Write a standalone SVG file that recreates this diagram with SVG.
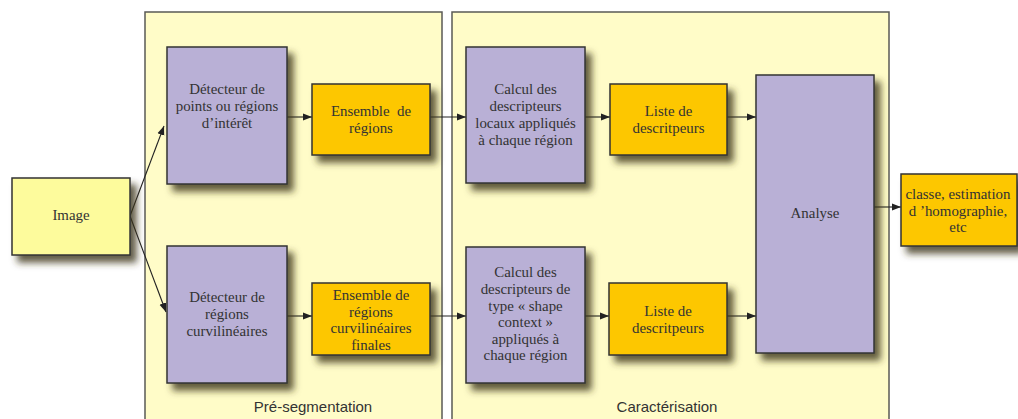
<svg xmlns="http://www.w3.org/2000/svg" width="1018" height="419" viewBox="0 0 1018 419">
<style>
.panel{fill:#fffcc8;stroke:#5a5a55;stroke-width:1.5}
.box{stroke:#333;stroke-width:1.5;filter:url(#sh)}
.p{fill:#b9b0d6}
.o{fill:#fdc700}
.y{fill:#fdfb9c}
.t{font-family:"Liberation Serif","Times New Roman",serif;font-size:14.9px;fill:#333;text-anchor:middle}
.lab{font-family:"Liberation Sans",Arial,sans-serif;font-size:15px;fill:#333;text-anchor:middle}
.c{stroke:#222;stroke-width:1.1;fill:none;marker-end:url(#ah)}
</style>
<defs>
<filter id="sh" x="-20%" y="-20%" width="150%" height="150%">
<feDropShadow dx="6" dy="7" stdDeviation="3.5" flood-color="#3a3418" flood-opacity="0.8"/>
</filter>
<marker id="ah" viewBox="0 0 10 10" refX="10" refY="5" markerWidth="9" markerHeight="9" markerUnits="userSpaceOnUse" orient="auto">
<path d="M0,1 L10,5 L0,9 Z" fill="#222"/>
</marker>
</defs>
<rect width="1018" height="419" fill="#fff"/>
<g id="panel-presegmentation">
<rect class="panel" x="145" y="12" width="297" height="420"/>
<text class="lab" x="313" y="412">Pré-segmentation</text>
</g>
<g id="panel-caracterisation">
<rect class="panel" x="452" y="12" width="437" height="420"/>
<text class="lab" x="667" y="412">Caractérisation</text>
</g>
<g id="connectors">
<path class="c" d="M130,216 L164,126"/>
<path class="c" d="M130,216 L166,312"/>
<path class="c" d="M287,117 L312,117"/>
<path class="c" d="M430,117 L466,117"/>
<path class="c" d="M585,117 L610,117"/>
<path class="c" d="M727,117 L756,117"/>
<path class="c" d="M287,316 L312,316"/>
<path class="c" d="M430,316 L466,316"/>
<path class="c" d="M585,316 L609,316"/>
<path class="c" d="M727,316 L756,316"/>
<path class="c" d="M874,207 L901,207"/>
</g>
<g id="image">
<rect class="box y" x="12" y="178" width="118" height="77"/>
<text class="t" x="71" y="220">Image</text>
</g>
<g id="detecteur-points">
<rect class="box p" x="167" y="47" width="120" height="137"/>
<text class="t" x="227" y="94">Détecteur de</text>
<text class="t" x="227" y="111">points ou régions</text>
<text class="t" x="227" y="128">d’intérêt</text>
</g>
<g id="ensemble-regions">
<rect class="box o" x="312" y="84" width="118" height="71"/>
<text class="t" x="371" y="116" xml:space="preserve">Ensemble  de</text>
<text class="t" x="371" y="133">régions</text>
</g>
<g id="detecteur-curvilineaires">
<rect class="box p" x="167" y="246" width="120" height="137"/>
<text class="t" x="227" y="302">Détecteur de</text>
<text class="t" x="227" y="319">régions</text>
<text class="t" x="227" y="336">curvilinéaires</text>
</g>
<g id="ensemble-curvilineaires">
<rect class="box o" x="312" y="283" width="118" height="72"/>
<text class="t" x="371" y="300">Ensemble de</text>
<text class="t" x="371" y="317">régions</text>
<text class="t" x="371" y="333">curvilinéaires</text>
<text class="t" x="371" y="350">finales</text>
</g>
<g id="calcul-locaux">
<rect class="box p" x="466" y="47" width="119" height="136"/>
<text class="t" x="525.5" y="94">Calcul des</text>
<text class="t" x="525.5" y="111">descripteurs</text>
<text class="t" x="525.5" y="128">locaux appliqués</text>
<text class="t" x="525.5" y="145">à chaque région</text>
</g>
<g id="liste-1">
<rect class="box o" x="610" y="84" width="117" height="71"/>
<text class="t" x="668.5" y="116">Liste de</text>
<text class="t" x="668.5" y="133">descritpeurs</text>
</g>
<g id="calcul-shape">
<rect class="box p" x="466" y="247" width="119" height="136"/>
<text class="t" x="525.5" y="277">Calcul des</text>
<text class="t" x="525.5" y="294">descripteurs de</text>
<text class="t" x="525.5" y="311">type « shape</text>
<text class="t" x="525.5" y="327">context »</text>
<text class="t" x="525.5" y="344">appliqués à</text>
<text class="t" x="525.5" y="360">chaque région</text>
</g>
<g id="liste-2">
<rect class="box o" x="609" y="283" width="118" height="72"/>
<text class="t" x="668" y="316">Liste de</text>
<text class="t" x="668" y="333">descritpeurs</text>
</g>
<g id="analyse">
<rect class="box p" x="756" y="75" width="118" height="278"/>
<text class="t" x="815" y="218">Analyse</text>
</g>
<g id="sortie">
<rect class="box o" x="901" y="174" width="116" height="72"/>
<text class="t" x="958" y="199">classe, estimation</text>
<text class="t" x="958" y="216">d ’homographie,</text>
<text class="t" x="958" y="232">etc</text>
</g>
</svg>
